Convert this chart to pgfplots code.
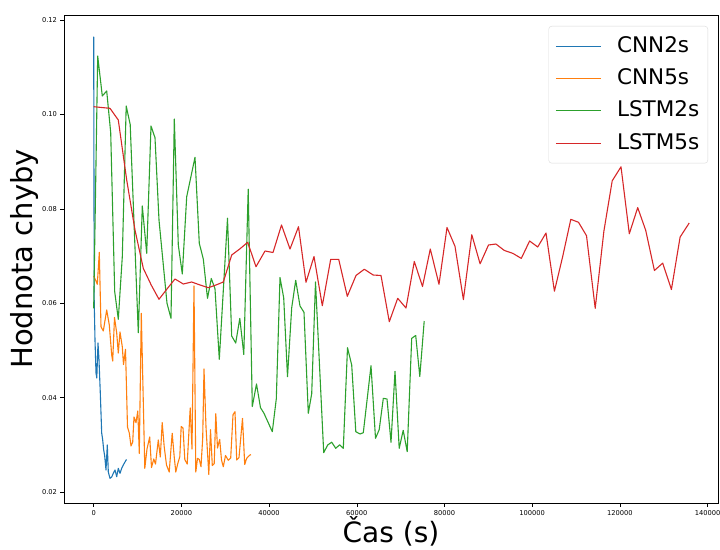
\documentclass[border=0pt]{standalone}
\usepackage{fontspec}
\setmainfont{DejaVu Sans}
\usepackage{pgfplots}
\pgfplotsset{compat=1.18}
\definecolor{c0}{HTML}{1F77B4}
\definecolor{c1}{HTML}{FF7F0E}
\definecolor{c2}{HTML}{2CA02C}
\definecolor{c3}{HTML}{D62728}
\begin{document}
\begin{tikzpicture}
\begin{axis}[
  width=654pt, height=488pt, scale only axis,
  xmin=-6773, xmax=142370, ymin=0.01767, ymax=0.12106,
  xtick={0,20000,40000,60000,80000,100000,120000,140000},
  ytick={0.02,0.04,0.06,0.08,0.10,0.12},
  scaled ticks=false,
  /pgf/number format/assume math mode=true,
  xticklabel style={/pgf/number format/.cd,fixed,1000 sep={},precision=0},
  yticklabel style={/pgf/number format/.cd,fixed,fixed zerofill,precision=2},
  tick label style={font=\fontsize{6.7}{8}\selectfont},
  tick align=outside, major tick length=3.5pt,
  tick style={black, line width=0.6pt},
  xtick pos=bottom, ytick pos=left,
  axis line style={black, line width=0.7pt},
  xlabel={Čas (s)}, ylabel={Hodnota chyby},
  label style={font=\fontsize{29}{34}\selectfont},
  xlabel style={at={(axis description cs:0.5,0)}, anchor=base, yshift=-39pt, font=\fontsize{28}{34}\selectfont},
  ylabel style={at={(axis description cs:-0.0489,0.5)}, anchor=base},
  legend style={
    at={(rel axis cs:1,1)}, xshift=-10pt, yshift=-11pt, anchor=north east,
    draw=black!15, rounded corners=3pt, fill=white, fill opacity=0.8, text opacity=1,
    inner xsep=6.5pt, inner ysep=7.9pt,
    font=\fontsize{21.5}{21.5}\selectfont,
    nodes={inner sep=2pt, text height=16pt, text depth=4pt},
    row sep=8.4pt,
    /tikz/every odd column/.append style={column sep=13.8pt}
  },
  legend cell align=left,
  legend image code/.code={\draw[#1] (0pt,0pt) -- (45pt,0pt);},
  every axis plot/.append style={line width=1.1pt, line join=round},
]
\addplot[c0] coordinates {
(0,0.11646) (114,0.06068) (296,0.05220) (525,0.04521) (707,0.04415) (981,0.05157)
(1209,0.04797) (1505,0.04097) (1824,0.03250) (2052,0.03102) (2281,0.02890)
(2509,0.02763) (2805,0.02466) (3101,0.02996) (3330,0.02424) (3717,0.02290)
(4105,0.02318) (4470,0.02396) (4857,0.02466) (5245,0.02324) (5610,0.02502)
(5998,0.02396) (6385,0.02502) (6750,0.02572) (7138,0.02636) (7480,0.02689)
};
\addlegendentry{CNN2s}
\addplot[c1] coordinates {
(0,0.06576) (525,0.06470) (821,0.06400) (1277,0.07078) (1665,0.05502) (2189,0.05411)
(2965,0.05856) (3558,0.05538) (4105,0.04902) (4333,0.04775) (4743,0.05697)
(5245,0.05369) (5610,0.04945) (5998,0.05390) (6522,0.05078) (6796,0.04701)
(7252,0.05023) (7708,0.03377) (8119,0.03250) (8506,0.02975) (8894,0.03059)
(9190,0.03589) (9647,0.03468) (10057,0.03716) (10399,0.02816) (10855,0.05786)
(11653,0.02502) (12155,0.02911) (12771,0.03165) (13181,0.02519) (13706,0.02699)
(14093,0.02593) (14732,0.03102) (15188,0.02742) (15621,0.03472) (16078,0.02960)
(16602,0.02572) (17218,0.02424) (17902,0.03244) (18358,0.02748) (18723,0.02424)
(19179,0.02604) (19635,0.02748) (19954,0.03388) (20365,0.03356) (20775,0.02689)
(21322,0.02593) (22007,0.03780) (22417,0.02911) (22873,0.06364) (23284,0.02424)
(23671,0.02714) (24082,0.02689) (24470,0.02536) (24858,0.03144) (25154,0.04606)
(25610,0.03377) (26249,0.02371) (26636,0.03320) (27047,0.02561) (27480,0.02600)
(27845,0.03659) (28232,0.02932) (28734,0.03112) (29145,0.02678) (29555,0.02536)
(30057,0.02773) (30696,0.02672) (31243,0.02720) (31768,0.03638) (32224,0.03701)
(32611,0.02678) (33136,0.02731) (33934,0.03561) (34436,0.02583) (34892,0.02714)
(35531,0.02778) (35873,0.02794)
};
\addlegendentry{CNN5s}
\addplot[c2] coordinates {
(0,0.05892) (912,0.11237) (1961,0.10390) (2965,0.10496) (3877,0.09616) (4789,0.06244)
(5610,0.05659) (6522,0.06985) (7412,0.10178) (8324,0.09786) (10171,0.05375)
(11083,0.08059) (12087,0.07057) (13067,0.09754) (13980,0.09506) (14891,0.07763)
(16716,0.05998) (17628,0.05680) (18381,0.09902) (19293,0.07233) (20206,0.06619)
(21209,0.08256) (23102,0.09091) (24082,0.07269) (24995,0.06936) (25952,0.06104)
(26818,0.06523) (27662,0.06305) (28643,0.04811) (30513,0.07799) (31471,0.05305)
(32383,0.05157) (33318,0.05680) (34230,0.04913) (35234,0.08415) (36169,0.03811)
(37126,0.04288) (38039,0.03786) (38837,0.03667) (40730,0.03278) (41642,0.03975)
(42486,0.06544) (43329,0.06114) (44196,0.04443) (45154,0.05902) (46066,0.06485)
(47047,0.05941) (47959,0.05807) (48940,0.03667) (49715,0.04083) (50582,0.06449)
(52452,0.02833) (53364,0.02996) (54276,0.03055) (55188,0.02926) (56100,0.03000)
(56921,0.02926) (57879,0.05057) (58837,0.04691) (59772,0.03278) (60730,0.03229)
(61482,0.03256) (63239,0.04676) (64265,0.03138) (65107,0.03320) (66045,0.03985)
(66888,0.03970) (67800,0.03053) (68712,0.04557) (69670,0.02926) (70582,0.03307)
(71494,0.02854) (72520,0.05256) (73432,0.05316) (74367,0.04447) (75371,0.05623)
};
\addlegendentry{LSTM2s}
\addplot[c3] coordinates {
(0,0.10163) (1824,0.10146) (3717,0.10129) (5610,0.09881) (7526,0.08610) (9418,0.07551)
(11311,0.06739) (13113,0.06386) (14891,0.06083) (16715,0.06301) (18540,0.06513)
(20432,0.06407) (22349,0.06449) (24241,0.06386) (26134,0.06328) (27890,0.06386)
(29556,0.06449) (31471,0.07021) (33295,0.07148) (35120,0.07290) (37012,0.06773)
(39065,0.07106) (40890,0.07074) (42828,0.07657) (44766,0.07148) (46705,0.07621)
(48415,0.06443) (50240,0.06989) (52132,0.05947) (54048,0.06930) (55872,0.06930)
(57833,0.06146) (59817,0.06587) (61710,0.06720) (63740,0.06597) (65518,0.06587)
(67411,0.05608) (69327,0.06104) (71220,0.05898) (73112,0.06883) (74982,0.06354)
(76761,0.07148) (78745,0.06400) (80570,0.07604) (82394,0.07205) (84310,0.06076)
(86226,0.07451) (88119,0.06835) (90034,0.07233) (91722,0.07254) (93615,0.07119)
(95599,0.07055) (97515,0.06949) (99407,0.07318) (101254,0.07191) (103147,0.07487)
(105063,0.06254) (106956,0.06991) (108803,0.07777) (110559,0.07714) (112383,0.07430)
(114367,0.05892) (116351,0.07530) (118244,0.08593) (120251,0.08890) (122144,0.07472)
(124059,0.08025) (125884,0.07544) (127868,0.06693) (129761,0.06849) (131745,0.06290)
(133729,0.07402) (135804,0.07699)
};
\addlegendentry{LSTM5s}
\end{axis}
\pgfresetboundingbox
\useasboundingbox ([xshift=-64pt,yshift=-46pt]current axis.south west) rectangle ([xshift=2pt,yshift=15pt]current axis.north east);
\end{tikzpicture}
\end{document}
